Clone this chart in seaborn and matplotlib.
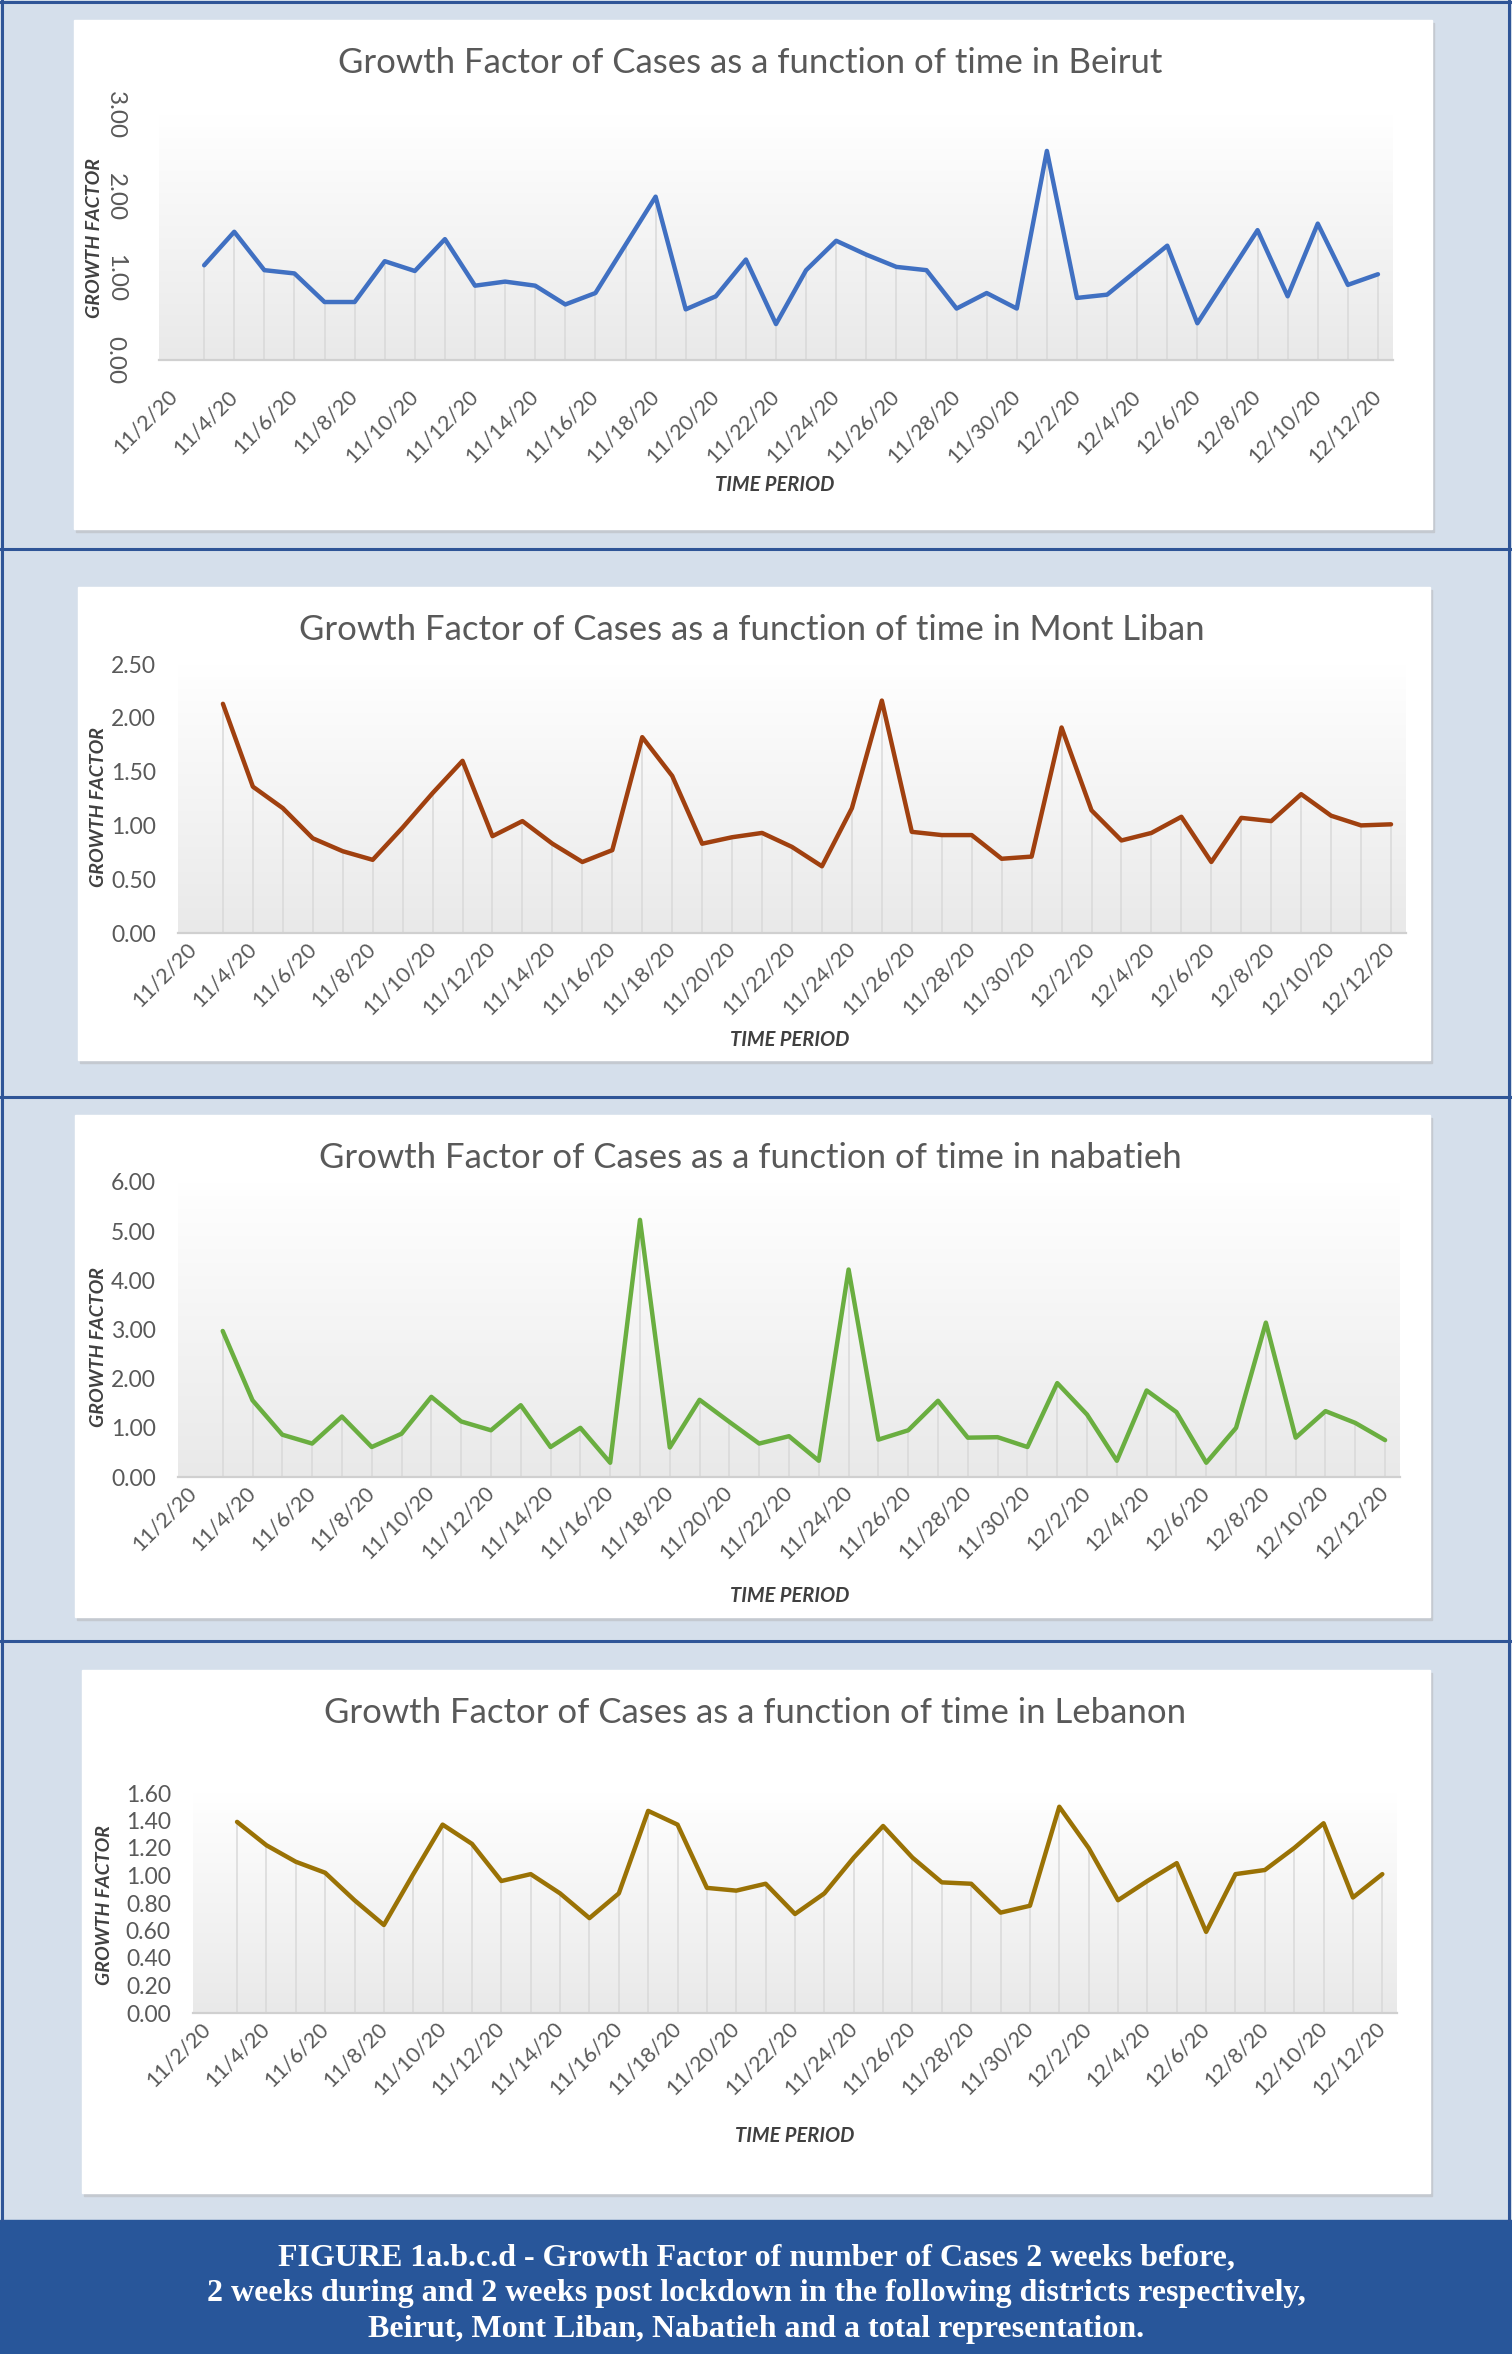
import numpy as np
import pandas as pd
import matplotlib
matplotlib.use("Agg")
import matplotlib.pyplot as plt
import matplotlib.dates as mdates
from matplotlib.patches import Rectangle
from matplotlib.lines import Line2D
from matplotlib.colors import LinearSegmentedColormap
from matplotlib.transforms import ScaledTranslation
import seaborn as sns

W, H = 1512, 2354

# x categories: one value per day, 11/3/20 .. 12/12/20
dates = pd.date_range("2020-11-03", "2020-12-12", freq="D")
tick_dates = pd.date_range("2020-11-02", "2020-12-12", freq="2D")
tick_labels = [f"{d.month}/{d.day}/20" for d in tick_dates]
minor_dates = pd.date_range("2020-11-01 12:00", "2020-12-11 12:00", freq="2D")

# growth factor series
beirut = [1.16, 1.57, 1.10, 1.06, 0.71, 0.71, 1.21, 1.09, 1.48, 0.91,
          0.96, 0.91, 0.68, 0.82, 1.41, 2.00, 0.62, 0.78, 1.23, 0.44,
          1.10, 1.46, 1.29, 1.14, 1.10, 0.63, 0.82, 0.63, 2.56, 0.76,
          0.80, 1.10, 1.40, 0.45, 1.02, 1.59, 0.78, 1.67, 0.92, 1.05]
mont_liban = [2.13, 1.36, 1.16, 0.88, 0.76, 0.68, 0.98, 1.30, 1.60, 0.90,
              1.04, 0.83, 0.66, 0.77, 1.82, 1.46, 0.83, 0.89, 0.93, 0.80,
              0.62, 1.16, 2.16, 0.94, 0.91, 0.91, 0.69, 0.71, 1.91, 1.14,
              0.86, 0.93, 1.08, 0.66, 1.07, 1.04, 1.29, 1.09, 1.00, 1.01]
nabatieh = [2.97, 1.56, 0.86, 0.68, 1.23, 0.61, 0.88, 1.63, 1.13, 0.95,
            1.46, 0.61, 1.00, 0.29, 5.23, 0.60, 1.57, 1.12, 0.68, 0.83,
            0.33, 4.22, 0.76, 0.95, 1.55, 0.80, 0.81, 0.61, 1.91, 1.27,
            0.33, 1.76, 1.32, 0.29, 1.00, 3.14, 0.80, 1.34, 1.10, 0.75]
lebanon = [1.39, 1.22, 1.10, 1.02, 0.82, 0.64, 1.01, 1.37, 1.23, 0.96,
           1.01, 0.87, 0.69, 0.87, 1.47, 1.37, 0.91, 0.89, 0.94, 0.72,
           0.87, 1.13, 1.36, 1.13, 0.95, 0.94, 0.73, 0.78, 1.50, 1.20,
           0.82, 0.96, 1.09, 0.59, 1.01, 1.04, 1.20, 1.38, 0.84, 1.01]

titles = ["Growth Factor of Cases as a function of time in Beirut",
          "Growth Factor of Cases as a function of time in Mont Liban",
          "Growth Factor of Cases as a function of time in nabatieh",
          "Growth Factor of Cases as a function of time in Lebanon"]
caption = ["FIGURE 1a.b.c.d - Growth Factor of number of Cases 2 weeks before,",
           "2 weeks during and 2 weeks post lockdown in the following districts respectively,",
           "Beirut, Mont Liban, Nabatieh and a total representation."]

sns.set_theme(style="white")
plt.rcParams["font.family"] = ["Lato", "DejaVu Sans"]

BG = "#d5dfeb"
FRAME = "#2f5597"
GREY_TXT = "#595959"


def fx(px):
    return px / W


def fy(py):
    return 1 - py / H


fig = plt.figure(figsize=(W / 100, H / 100), dpi=100)
fig.patch.set_facecolor(BG)

# panel layouts in pixels
panels = [
    dict(data=beirut, color="#4070c2", ylim=3.0, step=1.0, axx=(159, 1393), axy=(115, 360),
         box=(74, 20, 1432, 529), title_y=63, title_x=750, gf=(94, 238), tp=(775, 485),
         rot=True, xpad=24, xshift=-16, ysize=17.5),
    dict(data=mont_liban, color="#a0400f", ylim=2.5, step=0.5, axx=(178, 1406), axy=(664, 933),
         box=(78, 587, 1430, 1060), title_y=630, title_x=752, gf=(99, 807), tp=(790, 1040),
         rot=False, xpad=9, xshift=0, ysize=16.5),
    dict(data=nabatieh, color="#6aae40", ylim=6.0, step=1.0, axx=(178, 1400), axy=(1182, 1477),
         box=(75, 1115, 1430, 1617), title_y=1158, title_x=750, gf=(99, 1347), tp=(790, 1596),
         rot=False, xpad=9, xshift=0, ysize=16.5),
    dict(data=lebanon, color="#9a7205", ylim=1.6, step=0.2, axx=(193, 1397), axy=(1793, 2013),
         box=(82, 1670, 1430, 2193), title_y=1713, title_x=755, gf=(104, 1905), tp=(795, 2136),
         rot=False, xpad=9, xshift=0, ysize=16.5),
]

grad = LinearSegmentedColormap.from_list("g", ["#e9e9e9", "#ffffff"])
xmin = pd.Timestamp("2020-11-01 12:00")
xmax = pd.Timestamp("2020-12-12 12:00")

for p, title in zip(panels, titles):
    bx0, by0, bx1, by1 = p["box"]
    # white chart box with a faint shadow
    fig.patches.append(Rectangle((fx(bx0 + 2), fy(by1 + 3)), fx(bx1 - bx0), (by1 - by0) / H,
                                 transform=fig.transFigure, color="#c4c9d0", zorder=0.2))
    fig.patches.append(Rectangle((fx(bx0), fy(by1)), fx(bx1 - bx0), (by1 - by0) / H,
                                 transform=fig.transFigure, color="white", zorder=0.3))

    x0, x1 = p["axx"]
    yt, yb = p["axy"]
    ax = fig.add_axes([fx(x0), fy(yb), fx(x1 - x0), (yb - yt) / H])
    ax.set_zorder(3)
    ax.patch.set_alpha(0)

    vals = np.array(p["data"])
    ax.vlines(dates, 0, vals, color="#d9d9d9", lw=1.1, zorder=2)
    sns.lineplot(x=dates, y=vals, ax=ax, color=p["color"], lw=3.2, zorder=3)

    ax.imshow(np.linspace(0, 1, 256)[:, None], extent=[mdates.date2num(xmin), mdates.date2num(xmax),
                                                          0, p["ylim"]],
              origin="lower", aspect="auto", cmap=grad, zorder=0)
    ax.set_xlim(xmin, xmax)
    ax.set_ylim(0, p["ylim"])

    for s in ["top", "right", "left"]:
        ax.spines[s].set_visible(False)
    ax.spines["bottom"].set_color("#d0d0d0")
    ax.spines["bottom"].set_linewidth(1.6)
    ax.grid(False)

    ax.set_xticks(tick_dates)
    ax.set_xticklabels(tick_labels, rotation=45, ha="right", va="center", rotation_mode="anchor",
                       fontsize=15.5, color=GREY_TXT)
    shift = ScaledTranslation(p["xshift"] / 100, 0, fig.dpi_scale_trans)
    for lab in ax.get_xticklabels():
        lab.set_transform(lab.get_transform() + shift)
    ax.set_xticks(minor_dates, minor=True)
    ax.tick_params(axis="x", which="major", length=0, pad=p["xpad"])
    ax.tick_params(axis="x", which="minor", length=7, width=1.2, color="#c8c8c8", direction="out")

    yt_vals = np.arange(0, p["ylim"] + 1e-9, p["step"])
    ax.set_yticks(yt_vals)
    ylabels = [f"{v:.2f}" for v in yt_vals]
    if p["rot"]:
        ax.set_yticklabels(ylabels, rotation=-90, va="center", ha="right",
                           fontsize=p["ysize"], color=GREY_TXT)
        ax.tick_params(axis="y", length=0, pad=24)
    else:
        ax.set_yticklabels(ylabels, fontsize=p["ysize"], color=GREY_TXT)
        ax.tick_params(axis="y", length=0, pad=16)
    ax.set_xlabel("")
    ax.set_ylabel("")

    fig.text(fx(p["title_x"]), fy(p["title_y"]), title, ha="center", va="center",
             fontsize=25, color=GREY_TXT, zorder=4)
    fig.text(fx(p["gf"][0]), fy(p["gf"][1]), "GROWTH FACTOR", rotation=90, ha="center",
             va="center", fontsize=14, fontweight="bold", fontstyle="italic", color="#404040",
             zorder=4)
    fig.text(fx(p["tp"][0]), fy(p["tp"][1]), "TIME PERIOD", ha="center", va="center",
             fontsize=14.5, fontweight="bold", fontstyle="italic", color="#404040", zorder=4)

# dark blue frame lines around the panels
for y in [1.5, 549, 1097, 1641]:
    fig.add_artist(Line2D([fx(0), fx(W)], [fy(y), fy(y)], color=FRAME, lw=2.2, zorder=5))
fig.add_artist(Line2D([fx(1.5), fx(1.5)], [fy(0), fy(2220)], color=FRAME, lw=2.2, zorder=5))
fig.add_artist(Line2D([fx(1509), fx(1509)], [fy(0), fy(2220)], color=FRAME, lw=2.2, zorder=5))

# caption bar
fig.patches.append(Rectangle((0, 0), 1, (H - 2220) / H, transform=fig.transFigure,
                             color="#28569a", zorder=1))
for i, line in enumerate(caption):
    fig.text(0.5, fy(2258 + i * 36), line, ha="center", va="center", color="white",
             fontsize=23, fontweight="bold", family=["Liberation Serif", "DejaVu Serif"],
             zorder=4)

fig.savefig("out.png", dpi=100, facecolor=fig.get_facecolor())
